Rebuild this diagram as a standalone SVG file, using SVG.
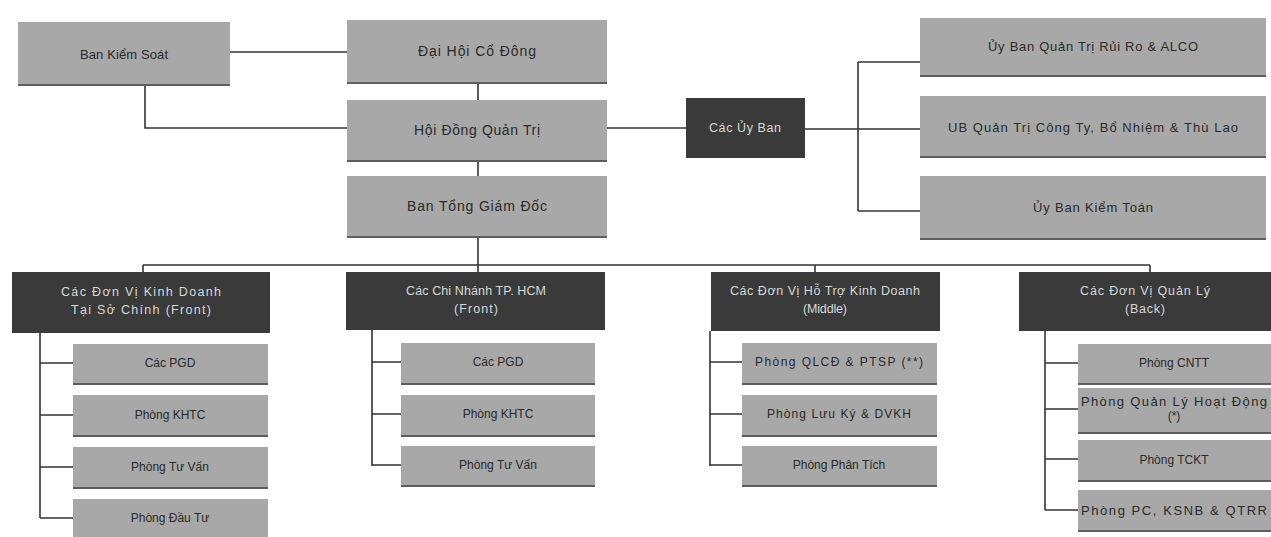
<svg xmlns="http://www.w3.org/2000/svg" width="1271" height="537" viewBox="0 0 1271 537">
<style>
.lt{fill:#a8a8a8}
.dk{fill:#3a3a3a}
.sh{fill:#5e5e5e}
.t{font-family:"Liberation Sans",Arial,sans-serif;font-size:12px;fill:#2a2a2a;text-anchor:middle;dominant-baseline:central}
.tb{font-size:13px}
.tc{font-size:14px}
.tw{font-family:"Liberation Sans",Arial,sans-serif;font-size:12.5px;fill:#d8d8d8;text-anchor:middle;dominant-baseline:central}
.ln{stroke:#333;stroke-width:1.6;fill:none}
</style>
<rect width="1271" height="537" fill="#fff"/>
<g id="connectors" class="ln">
<path d="M230 52H347"/>
<path d="M145 84V128H347"/>
<path d="M478 82V100"/>
<path d="M478 160V176"/>
<path d="M607 128H686"/>
<path d="M805 129H920"/>
<path d="M858 62V211"/>
<path d="M858 62H920"/>
<path d="M858 211H920"/>
<path d="M478 236V265"/>
<path d="M143 265H1150"/>
<path d="M143 265V272"/>
<path d="M478 265V272"/>
<path d="M815 265V272"/>
<path d="M1150 265V272"/>
<path d="M40 333V518"/>
<path d="M40 363H73M40 415H73M40 467H73M40 518H73"/>
<path d="M372 330V466"/>
<path d="M372 362H401M372 414H401M372 465H401"/>
<path d="M710 331V466"/>
<path d="M710 362H742M710 414H742M710 465H742"/>
<path d="M1045 331V510"/>
<path d="M1045 363H1078M1045 409H1078M1045 459H1078M1045 510H1078"/>
</g>
<g id="ban-kiem-soat"><rect class="sh" x="18" y="24" width="212" height="62"/><rect class="lt" x="18" y="22" width="212" height="62"/><text class="t tb" x="124" y="54" textLength="88">Ban Kiểm Soát</text></g>
<g id="dai-hoi-co-dong"><rect class="sh" x="347" y="22" width="260" height="62"/><rect class="lt" x="347" y="20" width="260" height="62"/><text class="t tc" x="477" y="51" textLength="118">Đại Hội Cổ Đông</text></g>
<g id="hoi-dong-quan-tri"><rect class="sh" x="347" y="102" width="260" height="60"/><rect class="lt" x="347" y="100" width="260" height="60"/><text class="t tc" x="477" y="130" textLength="126">Hội Đồng Quản Trị</text></g>
<g id="ban-tong-giam-doc"><rect class="sh" x="347" y="178" width="260" height="60"/><rect class="lt" x="347" y="176" width="260" height="60"/><text class="t tc" x="477" y="206" textLength="140">Ban Tổng Giám Đốc</text></g>
<g id="cac-uy-ban"><rect class="dk" x="686" y="98" width="119" height="60"/><text class="tw" x="745" y="128" textLength="72">Các Ủy Ban</text></g>
<g id="uy-ban-qtrr"><rect class="sh" x="920" y="20" width="346" height="57"/><rect class="lt" x="920" y="18" width="346" height="57"/><text class="t tb" x="1093" y="46" textLength="210">Ủy Ban Quản Trị Rủi Ro &amp; ALCO</text></g>
<g id="ub-quan-tri-cong-ty"><rect class="sh" x="920" y="98" width="346" height="60"/><rect class="lt" x="920" y="96" width="346" height="60"/><text class="t tb" x="1093" y="127" textLength="290">UB Quản Trị Công Ty, Bổ Nhiệm &amp; Thù Lao</text></g>
<g id="uy-ban-kiem-toan"><rect class="sh" x="920" y="178" width="346" height="62"/><rect class="lt" x="920" y="176" width="346" height="62"/><text class="t tb" x="1093" y="207" textLength="120">Ủy Ban Kiểm Toán</text></g>

<g id="front-hq"><rect class="dk" x="12" y="272" width="258" height="61"/><text class="tw" x="141" y="292" textLength="160">Các Đơn Vị Kinh Doanh</text><text class="tw" x="141" y="310" textLength="140">Tại Sở Chính (Front)</text></g>
<g id="front-hq-1"><rect class="sh" x="73" y="346" width="195" height="39"/><rect class="lt" x="73" y="344" width="195" height="39"/><text class="t" x="170" y="363">Các PGD</text></g>
<g id="front-hq-2"><rect class="sh" x="73" y="397" width="195" height="40"/><rect class="lt" x="73" y="395" width="195" height="40"/><text class="t" x="170" y="415">Phòng KHTC</text></g>
<g id="front-hq-3"><rect class="sh" x="73" y="449" width="195" height="40"/><rect class="lt" x="73" y="447" width="195" height="40"/><text class="t" x="170" y="467">Phòng Tư Vấn</text></g>
<g id="front-hq-4"><rect class="lt" x="73" y="499" width="195" height="40"/><text class="t" x="170" y="518">Phòng Đầu Tư</text></g>

<g id="front-hcm"><rect class="dk" x="346" y="272" width="259" height="58"/><text class="tw" x="476" y="291" textLength="140">Các Chi Nhánh TP. HCM</text><text class="tw" x="476" y="309" textLength="44">(Front)</text></g>
<g id="front-hcm-1"><rect class="sh" x="401" y="345" width="194" height="40"/><rect class="lt" x="401" y="343" width="194" height="40"/><text class="t" x="498" y="362">Các PGD</text></g>
<g id="front-hcm-2"><rect class="sh" x="401" y="397" width="194" height="40"/><rect class="lt" x="401" y="395" width="194" height="40"/><text class="t" x="498" y="414">Phòng KHTC</text></g>
<g id="front-hcm-3"><rect class="sh" x="401" y="448" width="194" height="39"/><rect class="lt" x="401" y="446" width="194" height="39"/><text class="t" x="498" y="465">Phòng Tư Vấn</text></g>

<g id="middle"><rect class="dk" x="711" y="272" width="229" height="59"/><text class="tw" x="825" y="291" textLength="190">Các Đơn Vị Hỗ Trợ Kinh Doanh</text><text class="tw" x="825" y="309" textLength="44">(Middle)</text></g>
<g id="middle-1"><rect class="sh" x="742" y="345" width="195" height="40"/><rect class="lt" x="742" y="343" width="195" height="40"/><text class="t" x="839" y="362" textLength="168">Phòng QLCĐ &amp; PTSP (**)</text></g>
<g id="middle-2"><rect class="sh" x="742" y="397" width="195" height="40"/><rect class="lt" x="742" y="395" width="195" height="40"/><text class="t" x="839" y="414" textLength="144">Phòng Lưu Ký &amp; DVKH</text></g>
<g id="middle-3"><rect class="sh" x="742" y="448" width="195" height="39"/><rect class="lt" x="742" y="446" width="195" height="39"/><text class="t" x="839" y="465">Phòng Phân Tích</text></g>

<g id="back"><rect class="dk" x="1019" y="272" width="252" height="59"/><text class="tw" x="1145" y="291" textLength="130">Các Đơn Vị Quản Lý</text><text class="tw" x="1145" y="309" textLength="40">(Back)</text></g>
<g id="back-1"><rect class="sh" x="1078" y="346" width="193" height="39"/><rect class="lt" x="1078" y="344" width="193" height="39"/><text class="t" x="1174" y="363">Phòng CNTT</text></g>
<g id="back-2"><rect class="sh" x="1078" y="390" width="193" height="44"/><rect class="lt" x="1078" y="388" width="193" height="44"/><text class="t tb" x="1174" y="401" textLength="186">Phòng Quản Lý Hoạt Động</text><text class="t" x="1174" y="416">(*)</text></g>
<g id="back-3"><rect class="sh" x="1078" y="442" width="193" height="40"/><rect class="lt" x="1078" y="440" width="193" height="40"/><text class="t" x="1174" y="460">Phòng TCKT</text></g>
<g id="back-4"><rect class="sh" x="1078" y="492" width="193" height="40"/><rect class="lt" x="1078" y="490" width="193" height="40"/><text class="t tb" x="1174" y="510" textLength="186">Phòng PC, KSNB &amp; QTRR</text></g>
</svg>
